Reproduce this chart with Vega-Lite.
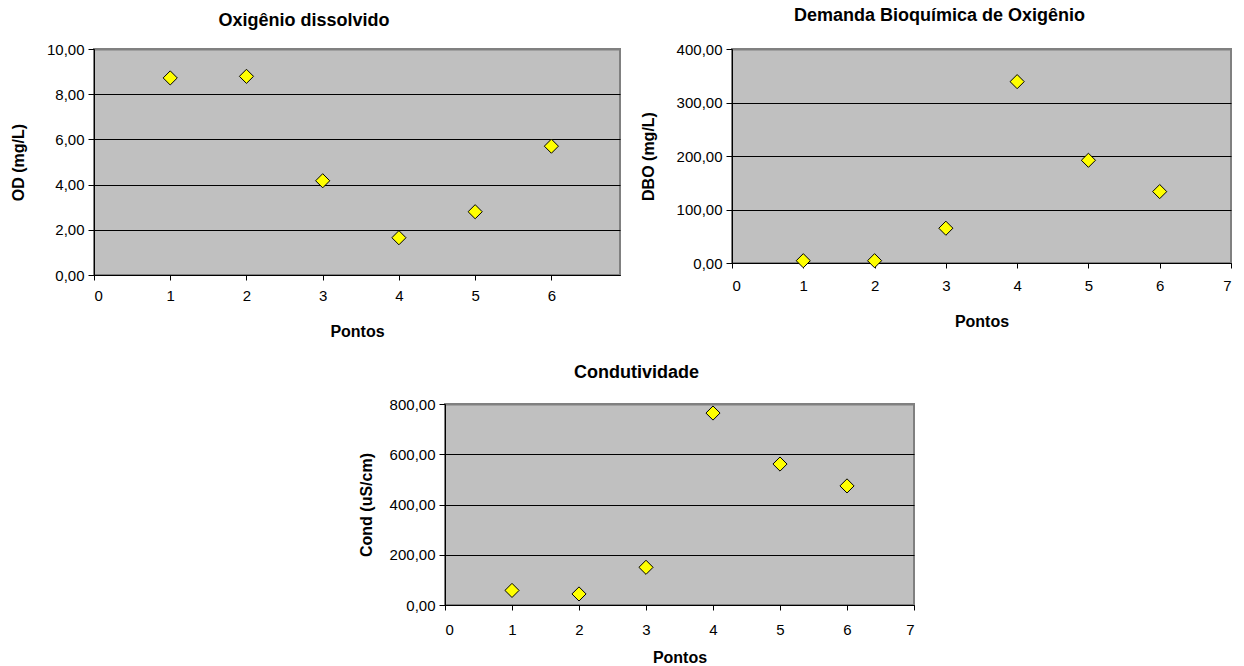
{
  "$schema": "https://vega.github.io/schema/vega-lite/v6.json",
  "background": "white",
  "padding": {"left": 9, "top": 6, "right": 5, "bottom": 5},
  "config": {
    "locale": {"number": {"decimal": ",", "thousands": ".", "grouping": [3], "currency": ["R$", ""]}},
    "font": "Liberation Sans",
    "axis": {"labelFont": "Liberation Sans", "titleFont": "Liberation Sans", "labelColor": "black", "titleColor": "black", "domainColor": "black", "tickColor": "black", "labelFontSize": 15, "titleFontSize": 16, "titleFontWeight": "bold"},
    "title": {"font": "Liberation Sans", "fontSize": 18, "fontWeight": "bold", "color": "black"}
  },
  "data": {"values": [
    {"ponto": 1, "od": 8.72, "dbo": 4.3, "cond": 58},
    {"ponto": 2, "od": 8.79, "dbo": 4.3, "cond": 44},
    {"ponto": 3, "od": 4.17, "dbo": 65, "cond": 150},
    {"ponto": 4, "od": 1.65, "dbo": 339, "cond": 764},
    {"ponto": 5, "od": 2.8, "dbo": 192, "cond": 561},
    {"ponto": 6, "od": 5.7, "dbo": 133.5, "cond": 474}
  ]},
  "bounds": "full",
  "spacing": 23,
  "vconcat": [
    {
      "bounds": "flush",
      "spacing": 112,
      "hconcat": [
        {
          "width": 526, "height": 226,
          "title": {"text": "Oxigênio dissolvido", "dx": -53, "offset": 12},
          "view": {"fill": "#C0C0C0", "stroke": "#808080", "strokeWidth": 2},
          "mark": {"type": "point", "shape": "diamond", "filled": true, "fill": "#FFFF00", "stroke": "black", "strokeWidth": 1, "size": 200, "opacity": 1},
          "encoding": {
            "x": {"field": "ponto", "type": "quantitative", "title": "Pontos", "scale": {"domain": [0, 6.9], "nice": false, "zero": false},
              "axis": {"values": [0, 1, 2, 3, 4, 5, 6], "format": "d", "grid": false, "tickSize": 5, "labelPadding": 8, "titlePadding": 20}},
            "y": {"field": "od", "type": "quantitative", "title": "OD (mg/L)", "scale": {"domain": [0, 10], "nice": false},
              "axis": {"values": [0, 2, 4, 6, 8, 10], "format": ".2f", "grid": true, "gridColor": {"condition": {"test": "datum.value == 10", "value": "#808080"}, "value": "black"}, "gridWidth": {"condition": {"test": "datum.value == 10", "value": 2}, "value": 1}, "gridOpacity": 1, "tickSize": 6, "labelPadding": 4, "titlePadding": 20}}
          }
        },
        {
          "width": 499, "height": 214,
          "title": {"text": "Demanda Bioquímica de Oxigênio", "dx": -42, "offset": 17},
          "view": {"fill": "#C0C0C0", "stroke": "#808080", "strokeWidth": 2},
          "mark": {"type": "point", "shape": "diamond", "filled": true, "fill": "#FFFF00", "stroke": "black", "strokeWidth": 1, "size": 200, "opacity": 1},
          "encoding": {
            "x": {"field": "ponto", "type": "quantitative", "title": "Pontos", "scale": {"domain": [0, 7], "nice": false, "zero": false},
              "axis": {"values": [0, 1, 2, 3, 4, 5, 6, 7], "format": "d", "grid": false, "tickSize": 5, "labelPadding": 10, "titlePadding": 20}},
            "y": {"field": "dbo", "type": "quantitative", "title": "DBO (mg/L)", "scale": {"domain": [0, 400], "nice": false},
              "axis": {"values": [0, 100, 200, 300, 400], "format": ".2f", "grid": true, "gridColor": {"condition": {"test": "datum.value == 400", "value": "#808080"}, "value": "black"}, "gridWidth": {"condition": {"test": "datum.value == 400", "value": 2}, "value": 1}, "gridOpacity": 1, "tickSize": 6, "labelPadding": 4, "titlePadding": 20}}
          }
        }
      ]
    },
    {
      "bounds": "flush",
      "spacing": 350,
      "hconcat": [
        {
          "width": 1, "height": 1,
          "view": {"stroke": null, "fill": null},
          "mark": {"type": "text"},
          "encoding": {"text": {"value": ""}}
        },
        {
          "width": 469, "height": 201,
          "title": {"text": "Condutividade", "dx": -43, "offset": 15},
          "view": {"fill": "#C0C0C0", "stroke": "#808080", "strokeWidth": 2},
          "mark": {"type": "point", "shape": "diamond", "filled": true, "fill": "#FFFF00", "stroke": "black", "strokeWidth": 1, "size": 200, "opacity": 1},
          "encoding": {
            "x": {"field": "ponto", "type": "quantitative", "title": "Pontos", "scale": {"domain": [0, 7], "nice": false, "zero": false},
              "axis": {"values": [0, 1, 2, 3, 4, 5, 6, 7], "format": "d", "grid": false, "tickSize": 5, "labelPadding": 12, "titlePadding": 12}},
            "y": {"field": "cond", "type": "quantitative", "title": "Cond (uS/cm)", "scale": {"domain": [0, 800], "nice": false},
              "axis": {"values": [0, 200, 400, 600, 800], "format": ".2f", "grid": true, "gridColor": {"condition": {"test": "datum.value == 800", "value": "#808080"}, "value": "black"}, "gridWidth": {"condition": {"test": "datum.value == 800", "value": 2}, "value": 1}, "gridOpacity": 1, "tickSize": 6, "labelPadding": 4, "titlePadding": 15}}
          }
        }
      ]
    }
  ]
}
